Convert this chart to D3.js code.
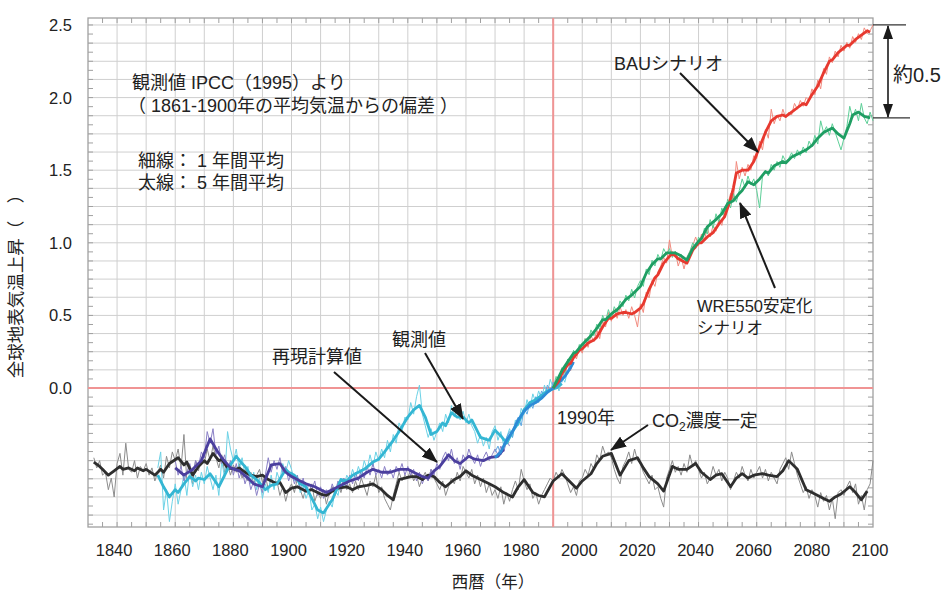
<!DOCTYPE html>
<html><head><meta charset="utf-8">
<script src="https://cdn.jsdelivr.net/npm/d3@7/dist/d3.min.js"></script>
<style>
body{margin:0;background:#fff}
svg{display:block}
text{font-family:"Liberation Sans","Noto Sans CJK JP",sans-serif;fill:#222}
</style>
</head><body>
<svg id="chart" width="946" height="594"></svg>
<script>
// ---------- tick labels ----------
const xTickYears = [1840,1860,1880,1900,1920,1940,1960,1980,2000,2020,2040,2060,2080,2100];
const yTickValues = [0.0,0.5,1.0,1.5,2.0,2.5];

// ---------- CO2 constant (black) ----------
const co2AnnualStart = 1832;
const co2Annual = [
 -0.48,-0.55,-0.50,-0.60,-0.58,-0.70,-0.62,-0.75,
 -0.52,-0.45,-0.60,-0.38,-0.56,-0.58,-0.50,-0.62,-0.54,-0.57,
 -0.52,-0.60,-0.55,-0.64,-0.58,-0.53,-0.62,-0.47,-0.55,-0.44,
 -0.50,-0.42,-0.55,-0.32,-0.64,-0.60,-0.66,-0.50,-0.57,-0.48,
 -0.52,-0.42,-0.50,-0.40,-0.48,-0.55,-0.46,-0.58,-0.52,-0.60,
 -0.53,-0.58,-0.52,-0.62,-0.56,-0.64,-0.58,-0.66,-0.60,-0.56,
 -0.65,-0.60,-0.70,-0.62,-0.68,-0.64,-0.74,-0.68,-0.78,-0.70,
 -0.66,-0.72,-0.62,-0.70,-0.76,-0.68,-0.72,-0.66,-0.78,-0.72,
 -0.76,-0.70,-0.80,-0.72,-0.68,-0.74,-0.66,-0.72,-0.64,-0.70,
 -0.66,-0.72,-0.64,-0.70,-0.62,-0.68,-0.74,-0.64,-0.68,-0.60,
 -0.72,-0.68,-0.76,-0.80,-0.84,-0.74,-0.66,-0.58,-0.64,-0.60,
 -0.62,-0.56,-0.64,-0.60,-0.68,-0.62,-0.58,-0.64,-0.56,-0.62,
 -0.66,-0.70,-0.64,-0.74,-0.68,-0.62,-0.66,-0.58,-0.64,-0.54,
 -0.58,-0.62,-0.56,-0.66,-0.60,-0.68,-0.62,-0.72,-0.66,-0.74,
 -0.70,-0.76,-0.68,-0.80,-0.72,-0.78,-0.70,-0.64,-0.70,-0.56,
 -0.64,-0.70,-0.66,-0.76,-0.72,-0.80,-0.74,-0.70,-0.66,-0.62,
 -0.64,-0.58,-0.62,-0.56,-0.60,-0.66,-0.72,-0.68,-0.74,-0.64,
 -0.62,-0.56,-0.60,-0.52,-0.56,-0.46,-0.50,-0.40,-0.46,-0.44,
 -0.48,-0.56,-0.62,-0.66,-0.54,-0.50,-0.44,-0.52,-0.42,-0.50,
 -0.52,-0.58,-0.62,-0.66,-0.60,-0.70,-0.68,-0.76,-0.82,-0.62,
 -0.56,-0.50,-0.58,-0.54,-0.60,-0.52,-0.58,-0.46,-0.54,-0.50,
 -0.56,-0.62,-0.58,-0.66,-0.62,-0.54,-0.60,-0.56,-0.64,-0.58,
 -0.62,-0.70,-0.64,-0.58,-0.62,-0.54,-0.60,-0.64,-0.56,-0.62,
 -0.58,-0.54,-0.62,-0.56,-0.64,-0.58,-0.62,-0.66,-0.56,-0.52,
 -0.48,-0.56,-0.44,-0.52,-0.60,-0.66,-0.72,-0.68,-0.76,-0.70,
 -0.74,-0.82,-0.72,-0.78,-0.74,-0.84,-0.76,-0.90,-0.72,-0.70,
 -0.74,-0.68,-0.64,-0.72,-0.66,-0.80,-0.74,-0.84,-0.70,-0.66,
 -0.50
];
const co2Smooth = [
 [1832,-0.51],[1834,-0.54],[1835,-0.56],[1837,-0.60],[1839,-0.57],[1841,-0.54],[1842,-0.56],[1844,-0.55],
 [1846,-0.57],[1847,-0.55],[1849,-0.57],[1850,-0.56],[1853,-0.60],[1855,-0.56],[1856,-0.58],[1858,-0.52],
 [1861,-0.48],[1863,-0.53],[1864,-0.51],[1866,-0.60],[1868,-0.54],[1870,-0.50],[1871,-0.52],[1873,-0.45],
 [1875,-0.50],[1876,-0.49],[1878,-0.55],[1881,-0.56],[1882,-0.55],[1884,-0.58],[1886,-0.60],[1888,-0.61],
 [1890,-0.60],[1892,-0.63],[1895,-0.66],[1896,-0.65],[1898,-0.72],[1900,-0.69],[1902,-0.68],[1905,-0.71],
 [1907,-0.70],[1910,-0.73],[1912,-0.74],[1914,-0.71],[1916,-0.69],[1919,-0.68],[1921,-0.70],[1923,-0.68],
 [1926,-0.67],[1928,-0.66],[1931,-0.70],[1933,-0.74],[1935,-0.77],[1937,-0.63],[1939,-0.62],[1941,-0.61],
 [1943,-0.61],[1945,-0.63],[1947,-0.60],[1949,-0.61],[1951,-0.65],[1953,-0.68],[1956,-0.63],[1958,-0.61],
 [1960,-0.57],[1962,-0.60],[1965,-0.63],[1968,-0.66],[1970,-0.68],[1973,-0.72],[1976,-0.75],[1978,-0.68],
 [1980,-0.63],[1983,-0.72],[1985,-0.74],[1987,-0.75],[1990,-0.64],[1993,-0.59],[1995,-0.63],[1998,-0.69],
 [2000,-0.64],[2003,-0.59],[2005,-0.52],[2007,-0.47],[2010,-0.45],[2013,-0.60],[2016,-0.50],[2019,-0.48],
 [2021,-0.55],[2023,-0.61],[2026,-0.66],[2028,-0.71],[2031,-0.54],[2033,-0.56],[2036,-0.56],[2039,-0.52],
 [2041,-0.58],[2044,-0.63],[2046,-0.60],[2048,-0.59],[2051,-0.68],[2053,-0.62],[2055,-0.59],[2057,-0.62],
 [2059,-0.60],[2062,-0.59],[2064,-0.60],[2067,-0.61],[2069,-0.57],[2071,-0.50],[2074,-0.56],[2077,-0.70],
 [2079,-0.72],[2081,-0.74],[2083,-0.76],[2085,-0.78],[2087,-0.75],[2089,-0.73],[2092,-0.68],[2094,-0.72],
 [2096,-0.77],[2098,-0.71]
];

// ---------- observed (cyan) ----------
const obsAnnualStart = 1854;
const obsAnnual = [
 -0.55,-0.44,-0.84,-0.70,-0.92,-0.78,
 -0.66,-0.80,-0.70,-0.60,-0.74,-0.56,-0.68,-0.60,-0.70,-0.58,
 -0.66,-0.54,-0.62,-0.70,-0.60,-0.74,-0.50,-0.62,-0.30,-0.42,
 -0.50,-0.42,-0.56,-0.48,-0.60,-0.54,-0.66,-0.58,-0.70,-0.62,
 -0.76,-0.66,-0.72,-0.60,-0.70,-0.58,-0.64,-0.52,-0.58,-0.50,
 -0.56,-0.64,-0.60,-0.72,-0.68,-0.76,-0.70,-0.84,-0.80,-0.90,
 -0.82,-0.92,-0.84,-0.78,-0.82,-0.70,-0.74,-0.62,-0.68,-0.60,
 -0.64,-0.56,-0.62,-0.54,-0.60,-0.50,-0.56,-0.46,-0.54,-0.44,
 -0.50,-0.42,-0.48,-0.36,-0.44,-0.32,-0.38,-0.24,-0.30,-0.20,
 -0.22,-0.10,-0.18,-0.06,0.02,-0.18,-0.26,-0.34,-0.28,-0.36,
 -0.30,-0.24,-0.30,-0.18,-0.24,-0.12,-0.20,-0.14,-0.22,-0.16,
 -0.24,-0.18,-0.26,-0.30,-0.38,-0.32,-0.40,-0.34,-0.42,-0.30,
 -0.26,-0.36,-0.30,-0.40,-0.34,-0.28,-0.34,-0.22,-0.26,-0.14,
 -0.18,-0.08,-0.14,-0.04,-0.10,-0.02,-0.08,0.02,-0.04,0.06,
 0.00,0.04,-0.02,0.08,0.04,0.12
];
const obsSmooth = [
 [1854,-0.60],[1856,-0.68],[1858,-0.75],[1860,-0.70],[1861,-0.72],[1863,-0.66],[1865,-0.61],[1867,-0.64],
 [1868,-0.62],[1870,-0.63],[1872,-0.59],[1873,-0.62],[1875,-0.68],[1878,-0.56],[1879,-0.53],[1881,-0.47],
 [1883,-0.52],[1884,-0.54],[1886,-0.60],[1888,-0.63],[1891,-0.70],[1893,-0.67],[1895,-0.66],[1898,-0.56],
 [1899,-0.58],[1901,-0.60],[1903,-0.66],[1905,-0.68],[1907,-0.76],[1909,-0.84],[1911,-0.86],[1912,-0.83],
 [1914,-0.77],[1917,-0.63],[1919,-0.64],[1921,-0.60],[1923,-0.58],[1925,-0.56],[1928,-0.51],[1930,-0.49],
 [1932,-0.44],[1935,-0.36],[1937,-0.30],[1940,-0.20],[1942,-0.15],[1944,-0.12],[1946,-0.20],[1948,-0.32],
 [1950,-0.30],[1952,-0.24],[1953,-0.26],[1955,-0.17],[1957,-0.20],[1959,-0.20],[1961,-0.24],[1962,-0.22],
 [1965,-0.34],[1968,-0.36],[1970,-0.29],[1972,-0.33],[1974,-0.38],[1976,-0.30],[1978,-0.24],[1980,-0.15],
 [1982,-0.10],[1984,-0.08],[1986,-0.05],[1988,-0.02],[1991,0.00],[1993,0.03]
];

// ---------- model reproduction (purple, then blue) ----------
const simAnnualStart = 1860;
const simAnnual = [
 -0.50,-0.60,-0.54,-0.64,-0.58,-0.52,-0.60,-0.50,-0.54,-0.44,
 -0.48,-0.30,-0.38,-0.28,-0.46,-0.40,-0.52,-0.46,-0.56,-0.50,
 -0.60,-0.52,-0.62,-0.56,-0.66,-0.60,-0.70,-0.64,-0.74,-0.66,
 -0.72,-0.60,-0.48,-0.58,-0.50,-0.56,-0.48,-0.58,-0.54,-0.64,
 -0.58,-0.66,-0.60,-0.70,-0.62,-0.72,-0.66,-0.70,-0.64,-0.74,
 -0.68,-0.76,-0.70,-0.74,-0.66,-0.72,-0.64,-0.70,-0.62,-0.68,
 -0.60,-0.66,-0.58,-0.64,-0.56,-0.62,-0.54,-0.60,-0.52,-0.60,
 -0.56,-0.62,-0.54,-0.60,-0.56,-0.62,-0.54,-0.58,-0.52,-0.60,
 -0.54,-0.60,-0.56,-0.64,-0.58,-0.66,-0.60,-0.64,-0.56,-0.60,
 -0.52,-0.56,-0.48,-0.44,-0.50,-0.42,-0.52,-0.48,-0.56,-0.46,
 -0.50,-0.42,-0.48,-0.52,-0.46,-0.54,-0.48,-0.44,-0.50,-0.46,
 -0.42,-0.46,-0.40,-0.44,-0.36,-0.40
];
const simSmooth = [
 [1860,-0.55],[1863,-0.60],[1866,-0.56],[1869,-0.50],[1872,-0.35],[1874,-0.42],[1876,-0.48],[1879,-0.55],
 [1882,-0.57],[1885,-0.62],[1887,-0.66],[1890,-0.68],[1893,-0.53],[1896,-0.52],[1898,-0.58],[1900,-0.61],
 [1903,-0.64],[1905,-0.66],[1908,-0.68],[1910,-0.70],[1912,-0.72],[1914,-0.70],[1917,-0.67],[1920,-0.64],
 [1923,-0.62],[1926,-0.58],[1928,-0.56],[1931,-0.58],[1934,-0.58],[1937,-0.56],[1940,-0.56],[1942,-0.58],
 [1945,-0.61],[1947,-0.62],[1949,-0.57],[1951,-0.54],[1954,-0.46],[1956,-0.50],[1958,-0.52],[1961,-0.47],
 [1963,-0.49],[1966,-0.50],[1968,-0.48],[1971,-0.47],[1973,-0.42]
];
const simLateAnnualStart = 1970;
const simLateAnnual = [
 -0.44,-0.40,-0.46,-0.38,-0.34,-0.30,-0.34,-0.24,-0.20,-0.26,
 -0.14,-0.18,-0.10,-0.14,-0.06,-0.10,-0.02,-0.06,0.02,-0.02,
 0.04,0.00,0.08,0.04,0.14,0.10,0.20,0.16
];
const simLateSmooth = [
 [1970,-0.48],[1972,-0.44],[1974,-0.36],[1976,-0.30],[1978,-0.22],[1980,-0.16],[1982,-0.12],[1984,-0.10],
 [1986,-0.07],[1988,-0.03],[1990,0.00],[1992,0.04],[1994,0.08],[1996,0.14],[1997,0.18]
];

// ---------- BAU scenario (red) ----------
const bauAnnualStart = 1990;
const bauAnnual = [
 0.00,0.06,0.02,0.12,0.08,0.18,0.12,0.24,0.20,0.28,
 0.24,0.34,0.28,0.36,0.32,0.40,0.34,0.46,0.42,0.52,
 0.46,0.54,0.48,0.56,0.50,0.54,0.48,0.56,0.50,0.42,
 0.58,0.52,0.66,0.62,0.74,0.70,0.80,0.84,0.90,0.86,
 1.02,0.90,0.94,0.84,0.90,0.82,0.90,0.94,0.98,1.04,
 0.98,1.06,1.02,1.10,1.04,1.12,1.08,1.16,1.12,1.22,
 1.26,1.34,1.30,1.56,1.44,1.52,1.46,1.54,1.50,1.60,
 1.58,1.70,1.64,1.78,1.72,1.92,1.82,1.88,1.84,1.92,
 1.86,1.90,1.88,1.96,1.92,1.98,1.94,2.00,1.98,2.06,
 2.02,2.12,2.06,2.20,2.16,2.28,2.24,2.32,2.28,2.36,
 2.32,2.38,2.34,2.42,2.38,2.44,2.40,2.48,2.44,2.46,
 2.50
];
const bauSmooth = [
 [1990,0.00],[1992,0.05],[1993,0.10],[1995,0.16],[1996,0.17],[1997,0.21],[1999,0.26],[2000,0.27],
 [2002,0.31],[2004,0.33],[2005,0.35],[2007,0.42],[2009,0.48],[2010,0.48],[2012,0.51],[2014,0.52],
 [2015,0.52],[2017,0.51],[2018,0.52],[2020,0.55],[2021,0.58],[2023,0.68],[2025,0.76],[2026,0.78],
 [2028,0.86],[2031,0.93],[2033,0.89],[2036,0.86],[2038,0.95],[2040,1.00],[2041,1.00],[2043,1.04],
 [2045,1.07],[2047,1.13],[2049,1.18],[2051,1.30],[2052,1.38],[2053,1.48],[2055,1.50],[2057,1.50],
 [2059,1.56],[2061,1.66],[2063,1.76],[2065,1.84],[2067,1.87],[2069,1.88],[2070,1.87],[2072,1.90],
 [2074,1.93],[2076,1.96],[2077,1.95],[2079,2.02],[2081,2.08],[2083,2.17],[2085,2.25],[2086,2.26],
 [2088,2.31],[2091,2.36],[2092,2.36],[2094,2.40],[2096,2.43],[2098,2.46],[2099,2.45]
];

// ---------- WRE550 stabilisation (green) ----------
const wreAnnualStart = 1990;
const wreAnnual = [
 0.00,0.08,0.04,0.14,0.10,0.20,0.16,0.26,0.22,0.30,
 0.26,0.34,0.32,0.40,0.36,0.44,0.40,0.50,0.46,0.54,
 0.48,0.56,0.52,0.60,0.56,0.64,0.60,0.68,0.62,0.70,
 0.74,0.70,0.82,0.78,0.88,0.84,0.92,0.88,0.96,0.92,
 0.96,0.90,0.94,0.88,0.92,0.86,0.90,0.94,1.00,0.96,
 1.04,1.00,1.10,1.06,1.16,1.10,1.20,1.14,1.24,1.18,
 1.30,1.24,1.34,1.28,1.36,1.44,1.38,1.46,1.40,1.44,
 1.36,1.24,1.46,1.50,1.46,1.54,1.50,1.56,1.52,1.60,
 1.56,1.58,1.62,1.58,1.64,1.60,1.66,1.62,1.70,1.66,
 1.74,1.68,1.84,1.76,1.80,1.74,1.82,1.76,1.70,1.64,
 1.72,1.80,1.94,1.86,1.92,1.84,1.96,1.86,1.82,1.90,
 1.84
];
const wreSmooth = [
 [1990,0.00],[1993,0.12],[1995,0.18],[1997,0.24],[1998,0.25],[2000,0.30],[2003,0.36],[2005,0.41],
 [2007,0.47],[2008,0.47],[2010,0.51],[2012,0.54],[2013,0.56],[2015,0.61],[2017,0.64],[2019,0.68],
 [2020,0.70],[2022,0.79],[2024,0.85],[2026,0.89],[2027,0.89],[2029,0.93],[2032,0.93],[2034,0.91],
 [2036,0.88],[2038,0.96],[2040,1.01],[2041,1.03],[2043,1.11],[2046,1.16],[2048,1.20],[2050,1.27],
 [2052,1.29],[2054,1.34],[2055,1.36],[2057,1.42],[2059,1.40],[2061,1.44],[2063,1.49],[2064,1.48],
 [2066,1.53],[2069,1.56],[2070,1.55],[2072,1.59],[2075,1.62],[2077,1.64],[2079,1.67],[2081,1.72],
 [2083,1.76],[2086,1.79],[2088,1.75],[2090,1.72],[2092,1.82],[2093,1.88],[2095,1.90],[2097,1.87],
 [2099,1.86]
];

// gap markers for the "about 0.5" bracket (values at 2100)
const gapValues = [2.50, 1.86];

// ================= drawing =================
const svg = d3.select("#chart");
const x = d3.scaleLinear().domain([1830, 2100]).range([88, 873]);
const y = d3.scaleLinear().domain([-0.957, 2.548]).range([527, 18]);

const annual = (start, vals) => vals.map((v, i) => [start + i, v]);
const line = d3.line().x(d => x(d[0])).y(d => y(d[1]));

// grid
const grid = svg.append("g");
grid.selectAll("line.v").data(d3.range(1840, 2100, 10)).join("line")
  .attr("x1", d => x(d)).attr("x2", d => x(d)).attr("y1", y.range()[0]).attr("y2", y.range()[1])
  .attr("stroke", "#cfcfcf").attr("stroke-width", 1);
grid.selectAll("line.h").data(d3.range(-7, 21).map(k => k * 0.125)).join("line")
  .attr("x1", x.range()[0]).attr("x2", x.range()[1]).attr("y1", d => y(d)).attr("y2", d => y(d))
  .attr("stroke", "#cfcfcf").attr("stroke-width", 1);
// minor ticks on frame
const ticksG = svg.append("g").attr("stroke", "#a0a0a0").attr("stroke-width", 1);
d3.range(1835, 2100, 5).forEach(t => {
  ticksG.append("line").attr("x1", x(t)).attr("x2", x(t)).attr("y1", 527).attr("y2", 522);
  ticksG.append("line").attr("x1", x(t)).attr("x2", x(t)).attr("y1", 18).attr("y2", 23);
});
d3.range(-15, 41).forEach(k => {
  const v = k * 0.0625;
  ticksG.append("line").attr("x1", 88).attr("x2", 93).attr("y1", y(v)).attr("y2", y(v));
  ticksG.append("line").attr("x1", 873).attr("x2", 868).attr("y1", y(v)).attr("y2", y(v));
});
// frame
svg.append("rect").attr("x", 88).attr("y", 18).attr("width", 785).attr("height", 509)
  .attr("fill", "none").attr("stroke", "#a0a0a0").attr("stroke-width", 1.3);

// reference lines
svg.append("line").attr("x1", 88).attr("x2", 873).attr("y1", y(0)).attr("y2", y(0))
  .attr("stroke", "#f09494").attr("stroke-width", 2);
svg.append("line").attr("x1", x(1990)).attr("x2", x(1990)).attr("y1", 18).attr("y2", 527)
  .attr("stroke", "#f09494").attr("stroke-width", 2);

// thin (annual) lines
const thin = [
  [annual(co2AnnualStart, co2Annual), "#8c8c8c"],
  [annual(obsAnnualStart, obsAnnual), "#6cd2e6"],
  [annual(simAnnualStart, simAnnual), "#8a80c6"],
  [annual(simLateAnnualStart, simLateAnnual), "#5da8e2"],
  [annual(bauAnnualStart, bauAnnual), "#f28a7e"],
  [annual(wreAnnualStart, wreAnnual), "#5ccf97"]
];
thin.forEach(([d, c]) => svg.append("path").attr("d", line(d)).attr("fill", "none")
  .attr("stroke", c).attr("stroke-width", 1).attr("stroke-linejoin", "round"));

// thick (5-year) lines
const thick = [
  [co2Smooth, "#2e2e2e"],
  [obsSmooth, "#34b6d3"],
  [simSmooth, "#4b3f9e"],
  [simLateSmooth, "#2d8bd6"],
  [bauSmooth, "#e7392f"],
  [wreSmooth, "#1f9e63"]
];
thick.forEach(([d, c]) => svg.append("path").attr("d", line(d)).attr("fill", "none")
  .attr("stroke", c).attr("stroke-width", 2.8).attr("stroke-linejoin", "round"));

// axes labels
svg.append("g").selectAll("text").data(yTickValues).join("text")
  .attr("x", 72).attr("y", d => y(d)).attr("dy", "0.36em").attr("text-anchor", "end")
  .attr("font-size", 16.5).text(d => d.toFixed(1));
svg.append("g").selectAll("text").data(xTickYears).join("text")
  .attr("x", d => x(d) - 3).attr("y", 556).attr("text-anchor", "middle")
  .attr("font-size", 16.5).text(d => d);
svg.append("text").attr("x", 493).attr("y", 588).attr("text-anchor", "middle")
  .attr("font-size", 16.5).text("西暦（年）");
svg.append("text").attr("transform", "translate(22,282) rotate(-90)").attr("text-anchor", "middle")
  .attr("font-size", 17.5).text("全球地表気温上昇（　）");

// annotation arrows
const defs = svg.append("defs");
defs.append("marker").attr("id", "ah").attr("viewBox", "0 0 16 12").attr("refX", 15).attr("refY", 6)
  .attr("markerWidth", 16).attr("markerHeight", 12).attr("orient", "auto").attr("markerUnits", "userSpaceOnUse")
  .append("path").attr("d", "M0,0 L16,6 L0,12 Z").attr("fill", "#1a1a1a");
defs.append("marker").attr("id", "ah2").attr("viewBox", "0 0 14 10").attr("refX", 13).attr("refY", 5)
  .attr("markerWidth", 14).attr("markerHeight", 10).attr("orient", "auto-start-reverse").attr("markerUnits", "userSpaceOnUse")
  .append("path").attr("d", "M0,0 L14,5 L0,10 Z").attr("fill", "#1a1a1a");

const arrows = [
  [680, 73, 758, 152],
  [775, 288, 740, 203],
  [425, 353, 463, 419],
  [334, 372, 437, 462],
  [648, 425, 611, 450]
];
arrows.forEach(a => svg.append("line").attr("x1", a[0]).attr("y1", a[1]).attr("x2", a[2]).attr("y2", a[3])
  .attr("stroke", "#1a1a1a").attr("stroke-width", 2).attr("marker-end", "url(#ah)"));

// "about 0.5" bracket
svg.append("line").attr("x1", 873).attr("x2", 906).attr("y1", y(gapValues[0])).attr("y2", y(gapValues[0]))
  .attr("stroke", "#333").attr("stroke-width", 1.2);
svg.append("line").attr("x1", 873).attr("x2", 910).attr("y1", y(gapValues[1])).attr("y2", y(gapValues[1]))
  .attr("stroke", "#333").attr("stroke-width", 1.2);
svg.append("line").attr("x1", 888).attr("x2", 888).attr("y1", y(gapValues[0]) + 1).attr("y2", y(gapValues[1]) - 1)
  .attr("stroke", "#1a1a1a").attr("stroke-width", 1.6)
  .attr("marker-start", "url(#ah2)").attr("marker-end", "url(#ah2)");

// texts
const T = (tx, ty, s, size) => svg.append("text").attr("x", tx).attr("y", ty).attr("font-size", size || 18).text(s);
T(132, 89, "観測値 IPCC（1995）より");
T(128, 112, "（ 1861-1900年の平均気温からの偏差 ）");
T(138, 167, "細線： 1 年間平均");
T(138, 189, "太線： 5 年間平均");
T(614, 70, "BAUシナリオ");
T(893, 82, "約0.5", 20);
T(697, 312, "WRE550安定化", 16.5);
T(697, 334, "シナリオ", 16.5);
T(392, 346, "観測値");
T(272, 363, "再現計算値");
T(557, 424, "1990年");
const co2t = svg.append("text").attr("x", 652).attr("y", 427).attr("font-size", 18);
co2t.append("tspan").text("CO");
co2t.append("tspan").attr("font-size", 12).attr("dy", 4).text("2");
co2t.append("tspan").attr("dy", -4).text("濃度一定");
</script>
</body></html>
